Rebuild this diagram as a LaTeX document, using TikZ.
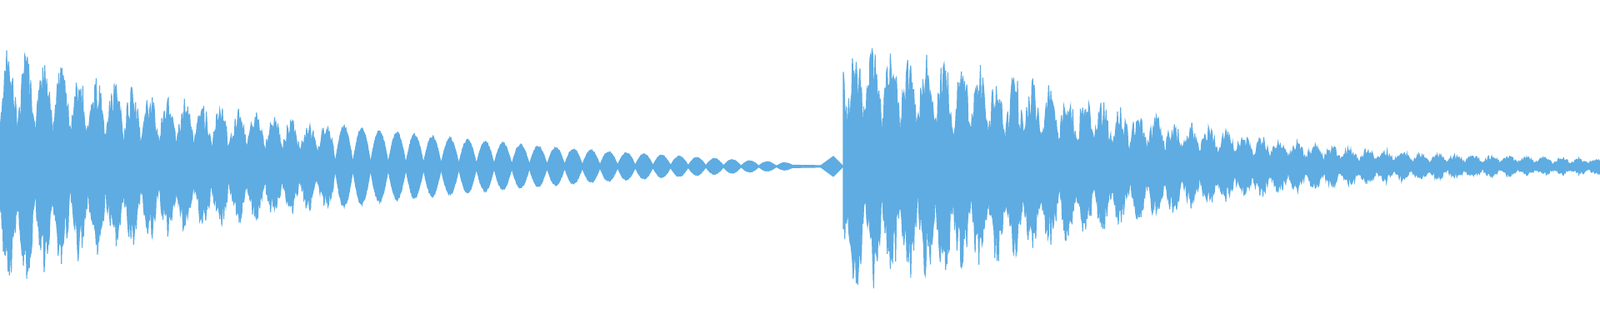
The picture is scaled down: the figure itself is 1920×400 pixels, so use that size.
\documentclass[tikz,border=0pt]{standalone}
\usepackage{tikz}
\definecolor{wavecol}{RGB}{94,172,226}

\begin{document}
\begin{tikzpicture}[x=0.01cm,y=0.01cm,
	wave/.style={fill=wavecol,draw=wavecol,line width=0.3pt},
	declare function={
		envA(\t)=105*exp(-\t/280)+45*(1-\t/960);
		envB(\t)=115*exp(-(\t/380)^2)+35*exp(-\t/700);
		lobe(\t)=0.1+0.9*abs(sin(8.5*\t));
	}]
	\useasboundingbox (0,0) rectangle (1920,400);
	\begin{scope}[yshift=2.0cm]
		% first strike
		\fill[wave] plot[domain=0:400,samples=500] (\x,{envA(\x)*(0.55+0.45*rnd)*(0.3+0.7*lobe(\x))})
			-- plot[domain=400:0,samples=500] (\x,{-envA(\x)*(0.55+0.45*rnd)*(0.3+0.7*lobe(\x))}) -- cycle;
		\fill[wave] plot[domain=400:950,samples=800] (\x,{envA(\x)*lobe(\x)*(0.9+0.1*rnd)})
			-- plot[domain=950:400,samples=800] (\x,{-envA(\x)*lobe(\x)*(0.9+0.1*rnd)}) -- cycle;
		\fill[wave] (950,1.5) -- (985,1) -- (1000,12) -- (1012,0) -- (1000,-12) -- (985,-1) -- (950,-1.5) -- cycle;
		% second strike
		\fill[wave] plot[domain=1012:1920,samples=1000] (\x,{envB(\x-1012)*(0.5+0.5*rnd)*(0.35+0.65*lobe(\x))})
			-- plot[domain=1920:1012,samples=1000] (\x,{-envB(\x-1012)*(0.5+0.5*rnd)*(0.35+0.65*lobe(\x))}) -- cycle;
		\draw[wavecol,line width=0.6pt] (0,0) -- (1920,0);
	\end{scope}
\end{tikzpicture}
\end{document}
